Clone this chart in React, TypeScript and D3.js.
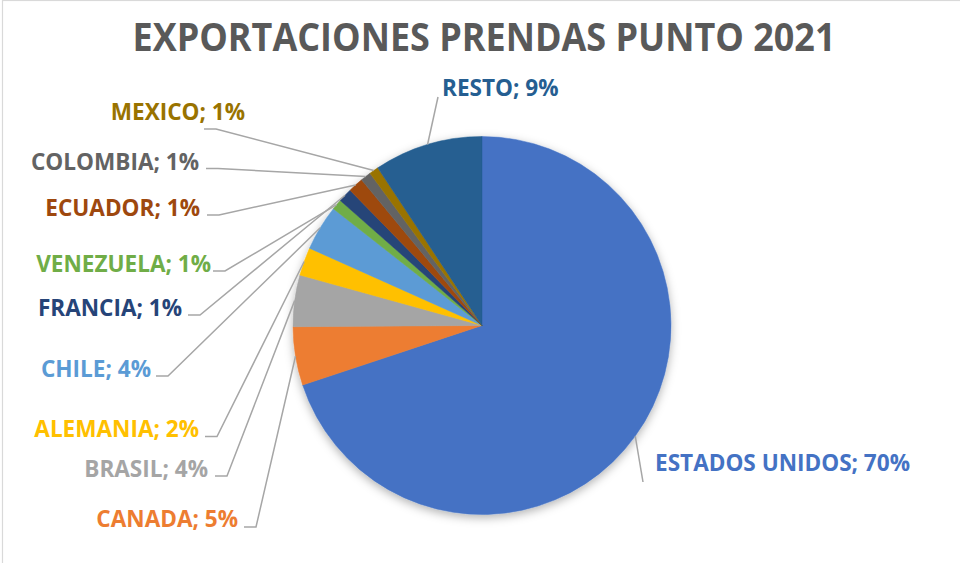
import React, { useEffect, useRef } from 'react';
import * as d3 from 'd3';

// slices, clockwise from 12 o'clock
const countries = ['ESTADOS UNIDOS', 'CANADA', 'BRASIL', 'ALEMANIA', 'CHILE', 'VENEZUELA', 'FRANCIA', 'ECUADOR', 'COLOMBIA', 'MEXICO', 'RESTO'];
const shares = [69.9, 5.0, 4.4, 2.4, 3.9, 0.9, 1.2, 1.3, 0.9, 0.8, 9.3];
const colors = ['#4472C4', '#ED7D31', '#A5A5A5', '#FFC000', '#5B9BD5', '#70AD47', '#264478', '#9E480E', '#636363', '#997300', '#255E91'];

// label placement (Excel places these by hand): text x/baseline, anchor, leader start
const labelLayout: Record<string, { x: number; y: number; anchor: string; lx: number; ly: number; elbow: boolean }> = {
  'ESTADOS UNIDOS': { x: 655, y: 471, anchor: 'start', lx: 643, ly: 482, elbow: false },
  CANADA: { x: 238, y: 527, anchor: 'end', lx: 244, ly: 527, elbow: true },
  BRASIL: { x: 208, y: 476.5, anchor: 'end', lx: 215, ly: 476, elbow: true },
  ALEMANIA: { x: 199, y: 436.5, anchor: 'end', lx: 205, ly: 436.5, elbow: true },
  CHILE: { x: 151, y: 376.5, anchor: 'end', lx: 156, ly: 376, elbow: true },
  VENEZUELA: { x: 211, y: 271.5, anchor: 'end', lx: 213, ly: 271, elbow: true },
  FRANCIA: { x: 182, y: 316, anchor: 'end', lx: 188, ly: 315, elbow: true },
  ECUADOR: { x: 200, y: 216, anchor: 'end', lx: 207, ly: 215, elbow: true },
  COLOMBIA: { x: 199, y: 170, anchor: 'end', lx: 206, ly: 168.5, elbow: true },
  MEXICO: { x: 245, y: 120, anchor: 'end', lx: 204, ly: 129, elbow: true },
  RESTO: { x: 442, y: 96, anchor: 'start', lx: 438, ly: 97, elbow: false },
};

const W = 960;
const H = 563;
const cx = 482;
const cy = 325.5;
const R = 189;
const FONT = '"Open Sans", "Noto Sans", sans-serif';

const App: React.FC = () => {
  const ref = useRef<SVGSVGElement>(null);

  useEffect(() => {
    if (!ref.current) return;
    const svg = d3.select(ref.current);
    svg.selectAll('*').remove();

    const defs = svg.append('defs');
    const f = defs.append('filter').attr('id', 'shadow').attr('x', '-20%').attr('y', '-20%').attr('width', '140%').attr('height', '140%');
    f.append('feDropShadow').attr('dx', 0).attr('dy', 3).attr('stdDeviation', 5).attr('flood-color', '#000').attr('flood-opacity', 0.3);

    svg.append('rect').attr('width', W).attr('height', H).attr('fill', '#fff');
    // chart area border (only top and left visible in the frame)
    svg.append('rect').attr('x', 2.5).attr('y', 0.5).attr('width', W + 10).attr('height', H + 10)
      .attr('fill', 'none').attr('stroke', '#D9D9D9').attr('stroke-width', 1.2);

    svg.append('text')
      .attr('x', 484).attr('y', 51)
      .attr('text-anchor', 'middle')
      .attr('font-family', FONT).attr('font-weight', 700).attr('font-size', 40)
      .attr('fill', '#595959')
      .attr('textLength', 703).attr('lengthAdjust', 'spacingAndGlyphs')
      .text('EXPORTACIONES PRENDAS PUNTO 2021');

    const data = countries.map((c, i) => ({ name: c, value: shares[i], color: colors[i] }));
    const total = d3.sum(shares);
    const pie = d3.pie<any>().value((d: any) => d.value).sort(null);
    const arcs = pie(data);
    const arc = d3.arc<any>().innerRadius(0).outerRadius(R);

    const g = svg.append('g').attr('transform', `translate(${cx},${cy})`);
    g.append('g').attr('filter', 'url(#shadow)')
      .selectAll('path')
      .data(arcs)
      .enter().append('path')
      .attr('d', arc as any)
      .attr('fill', (d: any) => d.data.color)
      .attr('stroke', (d: any) => d.data.color)
      .attr('stroke-width', 0.5);

    // leader lines to the slice edge at mid angle
    arcs.forEach((a: any) => {
      const L = labelLayout[a.data.name];
      const mid = (a.startAngle + a.endAngle) / 2;
      const ex = cx + R * Math.sin(mid);
      const ey = cy - R * Math.cos(mid);
      const pts: [number, number][] = [[L.lx, L.ly]];
      if (L.elbow) pts.push([L.lx + 12, L.ly]);
      pts.push([ex, ey]);
      svg.append('path')
        .attr('d', d3.line()(pts) as string)
        .attr('fill', 'none')
        .attr('stroke', '#A6A6A6')
        .attr('stroke-width', 1.5);
    });

    arcs.forEach((a: any) => {
      const L = labelLayout[a.data.name];
      const t = svg.append('text')
        .attr('x', L.x).attr('y', L.y)
        .attr('text-anchor', L.anchor)
        .attr('font-family', FONT).attr('font-weight', 700).attr('font-size', 24)
        .attr('fill', a.data.color)
        .text(`${a.data.name}; ${Math.round((a.data.value / total) * 100)}%`);
      const n = (t.node() as SVGTextElement).getComputedTextLength();
      t.attr('textLength', n * 0.94).attr('lengthAdjust', 'spacingAndGlyphs');
    });
  }, []);

  return (
    <div style={{ position: 'absolute', left: 0, top: 0 }}>
      <svg ref={ref} width={W} height={H} style={{ display: 'block' }} />
    </div>
  );
};

export default App;
